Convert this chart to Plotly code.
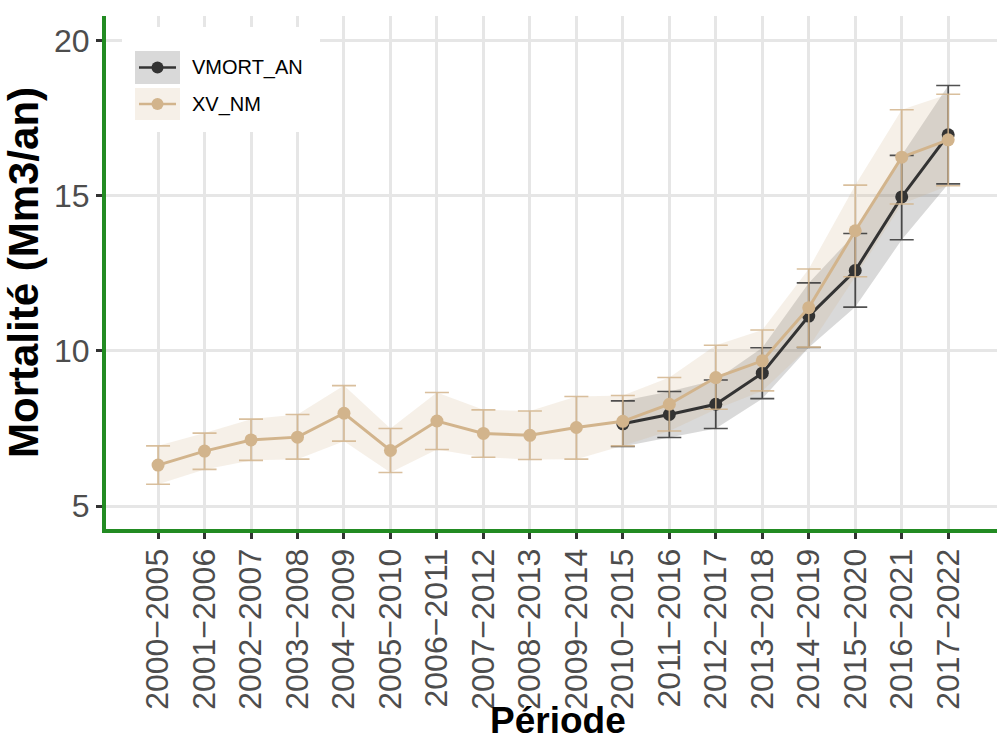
import plotly.graph_objects as go

periods = ["2000−2005", "2001−2006", "2002−2007", "2003−2008", "2004−2009", "2005−2010",
           "2006−2011", "2007−2012", "2008−2013", "2009−2014", "2010−2015", "2011−2016",
           "2012−2017", "2013−2018", "2014−2019", "2015−2020", "2016−2021", "2017−2022"]

xv_nm = [6.32, 6.77, 7.13, 7.22, 7.99, 6.79, 7.74, 7.34, 7.28, 7.53, 7.73, 8.28,
         9.14, 9.68, 11.39, 13.87, 16.24, 16.80]
xv_lo = [5.70, 6.18, 6.47, 6.51, 7.09, 6.08, 6.82, 6.57, 6.50, 6.51, 6.94, 7.42,
         8.12, 8.71, 10.12, 12.39, 14.73, 15.32]
xv_hi = [6.94, 7.35, 7.80, 7.95, 8.88, 7.50, 8.66, 8.10, 8.06, 8.53, 8.56, 9.14,
         10.18, 10.67, 12.64, 15.34, 17.77, 18.27]

vm_periods = periods[10:]
vmort_an = [7.65, 7.95, 8.28, 9.28, 11.12, 12.59, 14.96, 16.96]
vmort_lo = [6.92, 7.21, 7.50, 8.46, 10.11, 11.41, 13.58, 15.38]
vmort_hi = [8.39, 8.69, 9.06, 10.10, 12.19, 13.78, 16.30, 18.55]

y_ticks = [5, 10, 15, 20]

TAN = "#D2B48C"
DARK = "#333333"
FONT = "Liberation Sans, Arial, sans-serif"

fig = go.Figure()

# ribbons
fig.add_trace(go.Scatter(x=vm_periods + vm_periods[::-1], y=vmort_hi + vmort_lo[::-1],
                         fill="toself", fillcolor="rgba(0,0,0,0.15)", line=dict(width=0),
                         mode="lines", hoverinfo="skip", showlegend=False))
fig.add_trace(go.Scatter(x=periods + periods[::-1], y=xv_hi + xv_lo[::-1],
                         fill="toself", fillcolor="rgba(210,180,140,0.2)", line=dict(width=0),
                         mode="lines", hoverinfo="skip", showlegend=False))

# series
fig.add_trace(go.Scatter(
    x=vm_periods, y=vmort_an, mode="lines+markers", name="VMORT_AN",
    line=dict(color=DARK, width=3), marker=dict(color=DARK, size=13),
    error_y=dict(type="data", symmetric=False,
                 array=[h - v for h, v in zip(vmort_hi, vmort_an)],
                 arrayminus=[v - l for v, l in zip(vmort_an, vmort_lo)],
                 color="rgba(51,51,51,0.85)", thickness=1.6, width=12),
    showlegend=False))
fig.add_trace(go.Scatter(
    x=periods, y=xv_nm, mode="lines+markers", name="XV_NM",
    line=dict(color=TAN, width=3), marker=dict(color=TAN, size=13),
    error_y=dict(type="data", symmetric=False,
                 array=[h - v for h, v in zip(xv_hi, xv_nm)],
                 arrayminus=[v - l for v, l in zip(xv_nm, xv_lo)],
                 color="rgba(210,180,140,0.85)", thickness=1.6, width=12),
    showlegend=False))

# manual legend (pixel -> paper helpers)
L, R, T, B = 106, 997, 16, 529
def px(xp):
    return (xp - L) / (R - L)
def py(yp):
    return (B - yp) / (B - T)

shapes = [
    dict(type="rect", xref="paper", yref="paper", x0=px(122), x1=px(320), y0=py(132), y1=py(27),
         fillcolor="white", line=dict(width=0), layer="above"),
    dict(type="rect", xref="paper", yref="paper", x0=px(135), x1=px(180), y0=py(84), y1=py(51),
         fillcolor="#d9d9d9", line=dict(width=0), layer="above"),
    dict(type="rect", xref="paper", yref="paper", x0=px(135), x1=px(180), y0=py(120), y1=py(88),
         fillcolor="#f6f0e8", line=dict(width=0), layer="above"),
    dict(type="line", xref="paper", yref="paper", x0=px(139), x1=px(176), y0=py(67.5), y1=py(67.5),
         line=dict(color=DARK, width=2.5), layer="above"),
    dict(type="circle", xref="paper", yref="paper", x0=px(151.5), x1=px(163.5), y0=py(73.5), y1=py(61.5),
         fillcolor=DARK, line=dict(width=0), layer="above"),
    dict(type="line", xref="paper", yref="paper", x0=px(139), x1=px(176), y0=py(104), y1=py(104),
         line=dict(color=TAN, width=2.5), layer="above"),
    dict(type="circle", xref="paper", yref="paper", x0=px(151.5), x1=px(163.5), y0=py(110), y1=py(98),
         fillcolor=TAN, line=dict(width=0), layer="above"),
]
annotations = [
    dict(text="VMORT_AN", xref="paper", yref="paper", x=px(190), y=py(67.5), xanchor="left",
         yanchor="middle", showarrow=False, font=dict(size=20, color="black", family=FONT)),
    dict(text="XV_NM", xref="paper", yref="paper", x=px(190), y=py(104), xanchor="left",
         yanchor="middle", showarrow=False, font=dict(size=20, color="black", family=FONT)),
    dict(text="<b>Période</b>", xref="paper", yref="paper", x=px(558), y=py(743), xanchor="center",
         yanchor="bottom", showarrow=False, font=dict(size=37, color="black", family=FONT)),
]

fig.update_layout(
    width=999, height=744,
    margin=dict(l=L, r=999 - R, t=T, b=744 - B),
    plot_bgcolor="white", paper_bgcolor="white",
    font=dict(family=FONT),
    shapes=shapes, annotations=annotations,
    showlegend=False,
)
fig.update_xaxes(
    type="category", categoryorder="array", categoryarray=periods,
    range=[-1.12, 18.05],
    showgrid=True, gridcolor="#e6e6e6", gridwidth=2.5,
    showline=True, linecolor="#228B22", linewidth=4,
    ticks="outside", ticklen=6, tickwidth=2.5, tickcolor=DARK,
    tickangle=-90, tickfont=dict(size=32, color="#4d4d4d", family=FONT),
    ticklabelstandoff=-3,
    zeroline=False, automargin=False,
)
fig.update_yaxes(
    range=[4.26, 20.79],
    tickvals=y_ticks,
    showgrid=True, gridcolor="#e6e6e6", gridwidth=2.5,
    showline=True, linecolor="#228B22", linewidth=4,
    ticks="outside", ticklen=6, tickwidth=2.5, tickcolor=DARK,
    tickfont=dict(size=32, color="#4d4d4d", family=FONT),
    title=dict(text="<b>Mortalité (Mm3/an)</b>", font=dict(size=42, color="black", family=FONT), standoff=3),
    zeroline=False, automargin=False,
)

fig.write_html("out.html", config={"displayModeBar": False},
               post_script="document.body.style.margin='0';document.body.style.overflow='hidden';")
